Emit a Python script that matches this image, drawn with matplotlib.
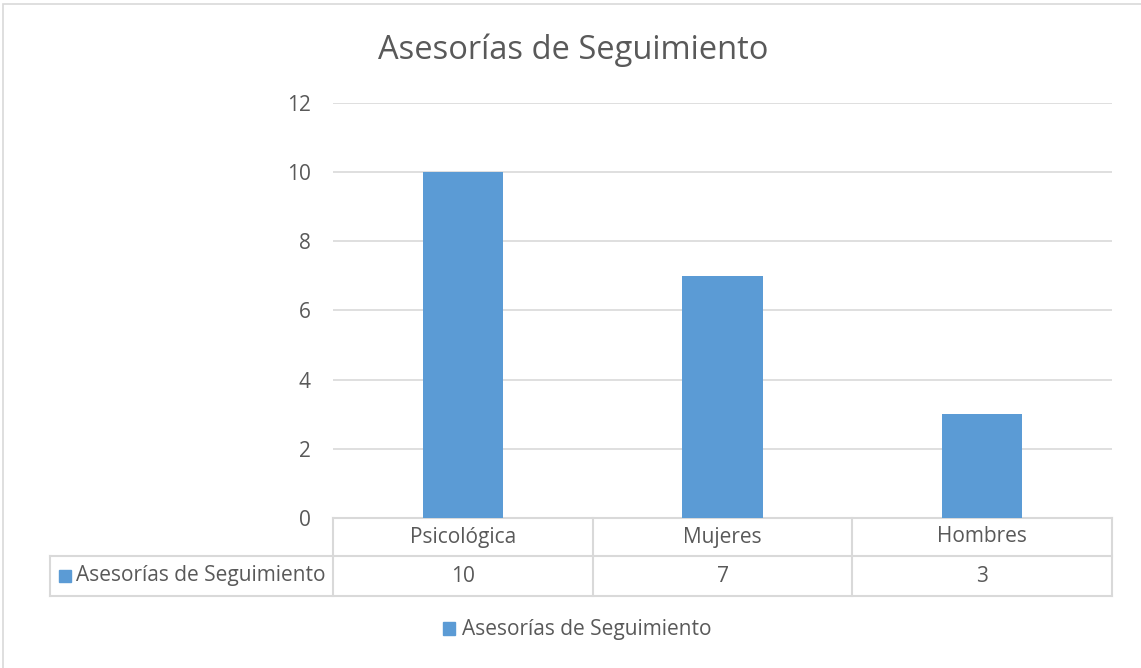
import matplotlib.pyplot as plt
from matplotlib.patches import Rectangle
from matplotlib.lines import Line2D

titulo = 'Asesorías de Seguimiento'
serie = 'Asesorías de Seguimiento'
categorias = ['Psicológica', 'Mujeres', 'Hombres']
valores = [10, 7, 3]
yticks = [0, 2, 4, 6, 8, 10, 12]

azul = '#5b9bd5'
gris_txt = '#595959'
gris_lin = '#d9d9d9'
fs = 15

plt.rcParams['font.family'] = ['Open Sans', 'DejaVu Sans']

W, H = 1141, 668
fig = plt.figure(figsize=(W / 100, H / 100), dpi=100)

# borde del gráfico
fig.patches.append(Rectangle((3 / W, -0.1), 1.2, 1.1 - 4 / H, transform=fig.transFigure,
                             fill=False, edgecolor=gris_lin, lw=1.2))

x0, x1, ytop, ybot = 333, 1112, 103, 518
ax = fig.add_axes([x0 / W, 1 - ybot / H, (x1 - x0) / W, (ybot - ytop) / H])

x = list(range(len(categorias)))
ax.bar(x, valores, width=0.31, color=azul, zorder=3)
ax.set_xlim(-0.5, len(categorias) - 0.5)
ax.set_ylim(0, 12)
ax.set_yticks(yticks)
ax.set_yticklabels([str(v) for v in yticks], fontsize=fs, color=gris_txt)
ax.set_xticks([])
ax.tick_params(axis='y', length=0, pad=16)
for s in ax.spines.values():
    s.set_visible(False)
ax.grid(axis='y', color=gris_lin, lw=1.2, zorder=0)

fig.text(573 / W, 1 - 50 / H, titulo, ha='center', va='center', fontsize=23.5, color=gris_txt)

# tabla de datos
ah = ybot - ytop
aw = x1 - x0
def ya(py):
    return (ybot - py) / ah
def xa(px):
    return (px - x0) / aw

fila1, fila2 = 556, 596
izq = 50
lk = dict(color=gris_lin, lw=1.5, transform=ax.transAxes, clip_on=False)
# líneas horizontales
ax.add_line(Line2D([0, 1], [0, 0], **lk))
ax.add_line(Line2D([xa(izq), 1], [ya(fila1), ya(fila1)], **lk))
ax.add_line(Line2D([xa(izq), 1], [ya(fila2), ya(fila2)], **lk))
# líneas verticales
for i in range(len(categorias) + 1):
    ax.add_line(Line2D([i / len(categorias)] * 2, [0, ya(fila2)], **lk))
ax.add_line(Line2D([xa(izq)] * 2, [ya(fila1), ya(fila2)], **lk))

yc1 = ya((ybot + fila1) / 2)
yc2 = ya((fila1 + fila2) / 2)
for i, (c, v) in enumerate(zip(categorias, valores)):
    xc = (i + 0.5) / len(categorias)
    ax.text(xc, yc1, c, transform=ax.transAxes, ha='center', va='center', fontsize=fs, color=gris_txt)
    ax.text(xc, yc2, str(v), transform=ax.transAxes, ha='center', va='center', fontsize=fs, color=gris_txt)

ax.add_patch(Rectangle((xa(59), ya(582)), 12 / aw, 12 / ah, transform=ax.transAxes,
                       color=azul, clip_on=False))
ax.text(xa(76), yc2, serie, transform=ax.transAxes, ha='left', va='center', fontsize=fs, color=gris_txt)

# leyenda
leg = fig.legend(handles=[Rectangle((0, 0), 1, 1, color=azul)], labels=[serie],
                 loc='center', bbox_to_anchor=(577 / W, 1 - 630 / H), frameon=False,
                 fontsize=fs, labelcolor=gris_txt, handlelength=0.6, handleheight=0.6,
                 handletextpad=0.3)

fig.savefig('out.png', dpi=100)
